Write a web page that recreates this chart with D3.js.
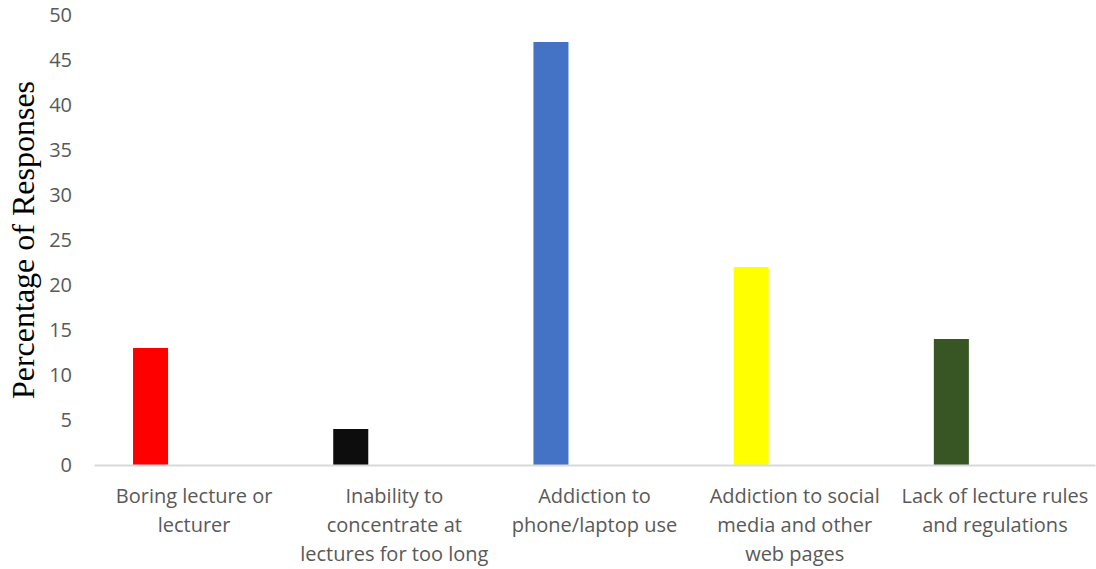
<!DOCTYPE html>
<html><head><meta charset="utf-8">
<script src="https://cdn.jsdelivr.net/npm/d3@7"></script>
<style>body{margin:0;background:#fff;}svg{display:block;}</style>
</head><body>
<script>
const categories = [
  ["Boring lecture or","lecturer"],
  ["Inability to","concentrate at","lectures for too long"],
  ["Addiction to","phone/laptop use"],
  ["Addiction to social","media and other","web pages"],
  ["Lack of lecture rules","and regulations"]
];
const values = [13, 4, 47, 22, 14];
const colors = ["#ff0000", "#0d0d0d", "#4472c4", "#ffff00", "#375623"];
const yTicks = [0,5,10,15,20,25,30,35,40,45,50];
const yTitle = "Percentage of Responses";

const W = 1096, H = 569;
const m = {left: 94, right: 1, top: 15, bottom: 104};
const svg = d3.select("body").append("svg").attr("width", W).attr("height", H);

const x = d3.scaleBand().domain(d3.range(categories.length)).range([m.left, W - m.right]).padding(0);
const y = d3.scaleLinear().domain([0, 50]).range([H - m.bottom, m.top]);

// bars
svg.append("g").selectAll("rect").data(values).join("rect")
  .attr("x", (d,i) => x(i) + x.bandwidth()*0.195)
  .attr("width", x.bandwidth()*0.175)
  .attr("y", d => y(d))
  .attr("height", d => y(0) - y(d))
  .attr("fill", (d,i) => colors[i]);

// x axis
const xa = svg.append("g").attr("transform", `translate(0,${y(0)})`)
  .call(d3.axisBottom(x).tickSize(0).tickFormat(""));
xa.select(".domain").attr("stroke", "#d9d9d9").attr("stroke-width", 2);
xa.selectAll(".tick").each(function(d){
  const t = d3.select(this).append("text")
    .attr("fill", "#595959").attr("font-family", "'Open Sans', sans-serif")
    .attr("font-size", 20).attr("text-anchor", "middle");
  categories[d].forEach((line, j) => {
    t.append("tspan").attr("x", 0).attr("y", 38 + j*29).text(line);
  });
});

// y axis
const ya = svg.append("g").attr("transform", `translate(${m.left},0)`)
  .call(d3.axisLeft(y).tickValues(yTicks).tickSize(0).tickPadding(22));
ya.select(".domain").remove();
ya.selectAll("text").attr("fill", "#595959").attr("font-family", "'Open Sans', sans-serif").attr("font-size", 20);

// y title
svg.append("text")
  .attr("transform", `translate(34,${(y(0)+y(50))/2}) rotate(-90)`)
  .attr("text-anchor", "middle")
  .attr("font-family", "'Liberation Serif', 'Times New Roman', serif")
  .attr("font-size", 32).attr("fill", "#000")
  .text(yTitle);
</script>
</body></html>
